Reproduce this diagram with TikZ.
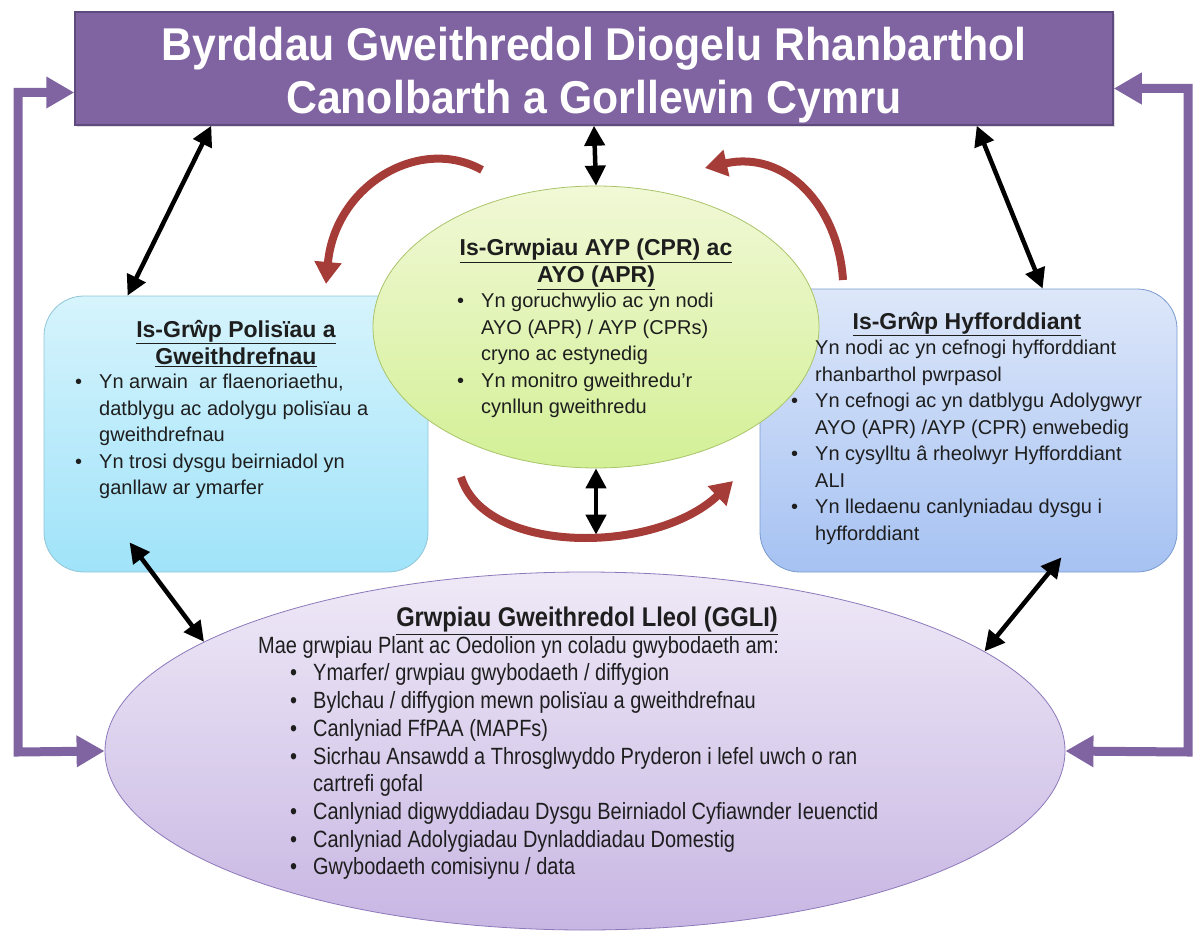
\documentclass[tikz,border=0pt]{standalone}
\usepackage{fontspec}
\setmainfont{Liberation Sans}
\newfontfamily\narrowfont{Liberation Sans}[FakeStretch=0.85]
\newfontfamily\narrowhead{Liberation Sans}[FakeStretch=0.88]
\newfontfamily\headfont{Liberation Sans}[FakeStretch=0.93]
\usepackage[HTML]{xcolor}
\usepackage{tikz}
\usetikzlibrary{positioning, arrows.meta, shapes.geometric, shadows}

\definecolor{bwrddfill}{HTML}{8064A2}
\definecolor{bwrddline}{HTML}{5E4A7E}
\definecolor{troicol}{HTML}{A63C38}
\definecolor{testun}{HTML}{1E1E1E}
\definecolor{polline}{HTML}{8FC5D8}
\definecolor{poltop}{HTML}{D6F4FC}
\definecolor{polbot}{HTML}{A0E3F9}
\definecolor{hyfline}{HTML}{7A9BD0}
\definecolor{hyftop}{HTML}{DDE7F9}
\definecolor{hyfbot}{HTML}{A6C2F2}
\definecolor{gglline}{HTML}{8C78BA}
\definecolor{ggltop}{HTML}{EFE9F7}
\definecolor{gglbot}{HTML}{C8B6E3}
\definecolor{grwline}{HTML}{A9C46A}
\definecolor{grwtop}{HTML}{F1F8D6}
\definecolor{grwbot}{HTML}{D3F096}

\newcommand{\itm}{\makebox[24pt][l]{\textbullet}}
\newcommand{\ind}{\hspace*{24pt}}
\newcommand{\itmb}{\hspace*{32pt}\makebox[23pt][l]{\textbullet}}
\newcommand{\indb}{\hspace*{55pt}}

\begin{document}
\begin{tikzpicture}[x=1pt, y=-1pt,
  tbox/.style={draw=bwrddline, fill=bwrddfill, line width=1.5pt, minimum width=1038pt,
    minimum height=113pt,
    drop shadow={shadow xshift=2pt, shadow yshift=-2pt, opacity=0.25}},
  tpen/.style={text=white, align=center, inner sep=0pt,
    font=\headfont\bfseries\fontsize{46}{53}\selectfont},
  rbox/.style={draw, rounded corners=40pt, line width=0.8pt},
  ell/.style={ellipse, draw, line width=0.8pt, inner sep=0pt},
  pen/.style={font=\fontsize{23}{27}\selectfont\bfseries, align=center, inner sep=0pt, text=testun, anchor=north},
  rhes/.style={font=\fontsize{20}{26.5}\selectfont, align=left, anchor=north west, inner sep=0pt, text=testun},
  dbl/.style={line width=4.5pt, {Triangle[length=20pt,width=20pt]}-{Triangle[length=20pt,width=20pt]}},
  elb/.style={draw=bwrddfill, line width=9pt, line join=miter,
    {Triangle[length=28pt,width=30pt]}-{Triangle[length=28pt,width=30pt]}},
  tro/.style={draw=troicol, line width=8pt, -{Triangle[length=22pt,width=26pt]}}
]
\useasboundingbox (0,0) rectangle (1193,933);

% boxes
\node[tbox] (Bwrdd) at (594,68.5) {};
\node[tpen] (BwrddPen) at (594,75)
  {Byrddau Gweithredol Diogelu Rhanbarthol\\ Canolbarth a Gorllewin Cymru};
\node[rbox, draw=polline, top color=poltop, bottom color=polbot,
  minimum width=384pt, minimum height=276pt] (Pol) at (236,434) {};
\node[rbox, draw=hyfline, top color=hyftop, bottom color=hyfbot,
  minimum width=417pt, minimum height=283pt] (Hyf) at (968.5,430.5) {};
\node[ell, draw=gglline, top color=ggltop, bottom color=gglbot,
  minimum width=960pt, minimum height=358pt] (Ggl) at (585,751) {};
\node[ell, draw=grwline, top color=grwtop, bottom color=grwbot,
  minimum width=446pt, minimum height=282pt] (Grw) at (596,327) {};

% texts
\node[pen] (PolPen) at (236,320) {\underline{Is-Grŵp Polisïau a}\\\underline{Gweithdrefnau}};
\node[rhes] (PolRhes) at (75,374) {\itm Yn arwain\ \ ar flaenoriaethu,\\
  \ind datblygu ac adolygu polisïau a\\ \ind gweithdrefnau\\
  \itm Yn trosi dysgu beirniadol yn\\ \ind ganllaw ar ymarfer};

\node[pen] (GrwPen) at (596,239) {\underline{Is-Grwpiau AYP (CPR) ac}\\\underline{AYO (APR)}};
\node[rhes] (GrwRhes) at (457,293) {\itm Yn goruchwylio ac yn nodi\\
  \ind AYO (APR) / AYP (CPRs)\\ \ind cryno ac estynedig\\
  \itm Yn monitro gweithredu’r\\ \ind cynllun gweithredu};

\node[pen] (HyfPen) at (967,312) {\underline{Is-Grŵp Hyfforddiant}};
\node[rhes] (HyfRhes) at (791,340) {\ind Yn nodi ac yn cefnogi hyfforddiant\\
  \ind rhanbarthol pwrpasol\\
  \itm Yn cefnogi ac yn datblygu Adolygwyr\\ \ind AYO (APR) /AYP (CPR) enwebedig\\
  \itm Yn cysylltu â rheolwyr Hyfforddiant\\ \ind ALI\\
  \itm Yn lledaenu canlyniadau dysgu i\\ \ind hyfforddiant};

\node[pen, font=\narrowhead\bfseries\fontsize{27}{30}\selectfont] (GglPen) at (587,607)
  {\underline{Grwpiau Gweithredol Lleol (GGLI)}};
\node[rhes, font=\narrowfont\fontsize{23.5}{27.7}\selectfont] (GglRhes) at (258,636)
  {Mae grwpiau Plant ac Oedolion yn coladu gwybodaeth am:\\
  \itmb Ymarfer/ grwpiau gwybodaeth / diffygion\\
  \itmb Bylchau / diffygion mewn polisïau a gweithdrefnau\\
  \itmb Canlyniad FfPAA (MAPFs)\\
  \itmb Sicrhau Ansawdd a Throsglwyddo Pryderon i lefel uwch o ran\\
  \indb cartrefi gofal\\
  \itmb Canlyniad digwyddiadau Dysgu Beirniadol Cyfiawnder Ieuenctid\\
  \itmb Canlyniad Adolygiadau Dynladdiadau Domestig\\
  \itmb Gwybodaeth comisiynu / data};

% black links
\draw[dbl] ([shift={(137,0)}]Bwrdd.south west) -- ([shift={(84,0)}]Pol.north west);
\draw[dbl] (Bwrdd.south) -- (Grw.north);
\draw[dbl] ([shift={(-137,0)}]Bwrdd.south east) -- ([shift={(283,0)}]Hyf.north west);
\draw[dbl, shorten >=37pt] (Grw.south) -- (Grw.south |- Ggl.north);
\draw[dbl] ([shift={(86,-30)}]Pol.south west) -- (Ggl.164);
\draw[dbl] ([shift={(-116,-15)}]Hyf.south east) -- (Ggl.14);

% purple side links
\coordinate (ChwithIs) at (18,752);
\coordinate (DdeIs) at (1188,752);
\draw[elb] ([yshift=-24pt]Bwrdd.west) -| (ChwithIs) -- (Ggl.west);
\draw[elb] ([yshift=-20pt]Bwrdd.east) -| (DdeIs) -- (Ggl.east);

% red turning arrows
\coordinate (TroA) at (482,170);
\coordinate (TroB) at (326,284);
\coordinate (TroC) at (843,280);
\coordinate (TroD) at (705,168);
\coordinate (TroE) at (461,477);
\coordinate (TroF) at (733,481);
\draw[tro] (TroA) .. controls (420,135) and (335,185) .. (TroB);
\draw[tro] (TroC) .. controls (838,205) and (785,150) .. (TroD);
\draw[tro] (TroE) .. controls (485,555) and (655,555) .. (TroF);
\end{tikzpicture}
\end{document}
